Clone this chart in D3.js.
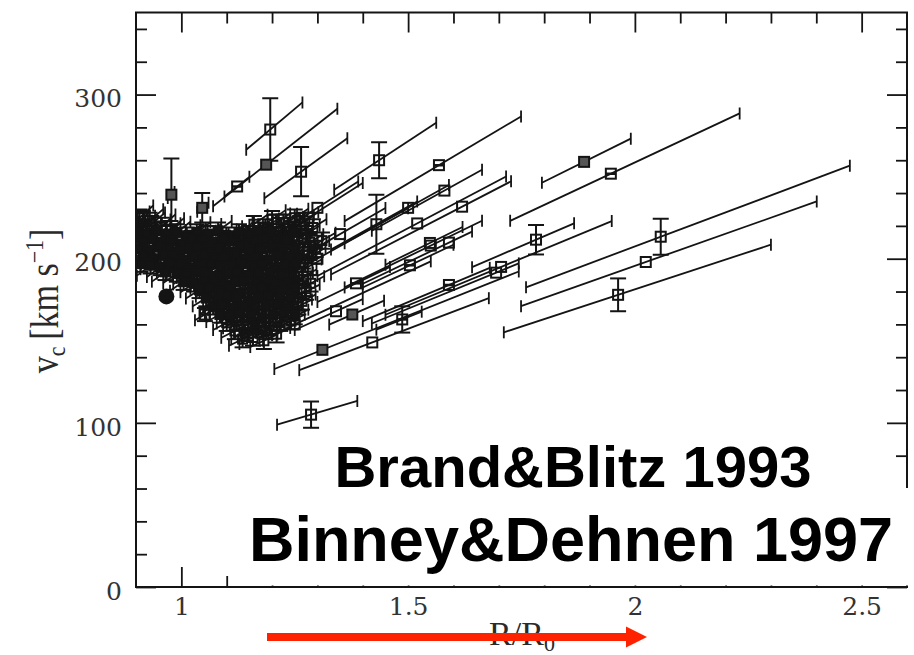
<!DOCTYPE html>
<html><head><meta charset="utf-8">
<script src="https://cdn.jsdelivr.net/npm/d3@7/dist/d3.min.js"></script>
<style>body{margin:0;background:#fff}svg{display:block}</style>
</head><body>
<svg id="c" width="914" height="655"></svg>
<script>
// ---- tick values ----
const xMajor = [1, 1.5, 2, 2.5];
const xMinor = [1.1,1.2,1.3,1.4,1.6,1.7,1.8,1.9,2.1,2.2,2.3,2.4];
const yMajor = [0, 100, 200, 300];
const yMinor = [20,40,60,80,120,140,160,180,220,240,260,280,320,340];

// ---- isolated points with long (distance) error segments ----
// R/R0, v_c, segment R-low, segment R-high, vertical error, marker type (0 open,1 filled,2 barred)
const lR   = [1.196,1.187,1.123,1.264,1.436,1.568,1.430,1.888,1.947,2.057,2.024,1.963,1.782,1.705,1.286,1.311,1.421,1.487,1.590,1.619,1.520,1.580,1.500,1.550,1.590,1.385,1.377,1.341,1.694,1.250,1.300,1.350,1.280,1.504,1.548,1.300,0.978,1.046,1.052,0.915];
const lV   = [278.7,257.3,244,253,260,257,221,259,251.8,213.4,198,178,211.6,195,105,144.5,149,163,184,231.7,221.5,241.5,231,208,209.8,185,166,168,191.5,160,200,215,225,196,209.6,231,239,231,166,225];
const lLo  = [1.143,1.07,1.095,1.183,1.337,1.36,1.33,1.795,1.725,1.76,1.749,1.711,1.641,1.45,1.211,1.205,1.26,1.43,1.40,1.33,1.30,1.42,1.36,1.36,1.40,1.30,1.326,1.25,1.42,1.20,1.24,1.28,1.22,1.40,1.45,1.22,0.97,1.035,1.03,0.905];
const lHi  = [1.267,1.344,1.15,1.366,1.562,1.749,1.52,1.991,2.231,2.474,2.401,2.30,1.866,1.949,1.388,1.744,1.678,1.53,1.68,1.727,1.716,1.663,1.59,1.663,1.641,1.46,1.447,1.40,1.744,1.55,1.50,1.45,1.40,1.60,1.62,1.39,0.985,1.06,1.075,0.93];
const lDv  = [19,0,0,15,11,0,18,0,0,11,0,10,9,0,8,0,0,8,0,0,0,0,0,0,0,0,0,0,0,0,0,0,0,0,0,0,22,9,4,4];
const lType= [0,1,2,0,0,2,0,1,2,0,0,0,0,0,0,1,0,2,2,0,0,0,0,0,0,2,1,0,0,0,0,0,0,2,0,0,1,1,2,0];

// ---- dense cluster near the solar circle (rows of roughly equal v_c) ----
const clusterRowsR = [
  [0.908,0.930,1.200,1.225,1.250,1.272],
  [0.912,0.934,0.957,0.976,1.160,1.185,1.210,1.238,1.262,1.290],
  [0.905,0.925,0.946,0.968,0.990,1.012,1.034,1.058,1.081,1.104,1.127,1.150,1.172,1.197,1.222,1.247,1.275],
  [0.915,0.937,0.958,0.980,1.002,1.024,1.046,1.069,1.092,1.115,1.138,1.162,1.185,1.209,1.233,1.258,1.283,1.310],
  [0.907,0.929,0.950,0.972,0.994,1.015,1.037,1.060,1.083,1.106,1.130,1.152,1.176,1.200,1.224,1.249,1.270,1.296],
  [0.918,0.940,0.962,0.984,1.006,1.028,1.050,1.073,1.097,1.120,1.143,1.166,1.190,1.213,1.238,1.262,1.288],
  [0.910,0.932,0.954,0.976,0.998,1.020,1.042,1.065,1.088,1.111,1.134,1.157,1.180,1.205,1.229,1.253,1.279],
  [0.965,0.990,1.012,1.034,1.056,1.080,1.102,1.125,1.148,1.171,1.195,1.219,1.243,1.268],
  [1.005,1.028,1.050,1.073,1.095,1.118,1.141,1.165,1.188,1.212,1.236,1.260,1.285],
  [1.040,1.062,1.085,1.108,1.131,1.155,1.178,1.202,1.226,1.250,1.275],
  [1.055,1.078,1.100,1.123,1.147,1.170,1.194,1.218,1.242,1.266],
  [1.070,1.092,1.115,1.138,1.162,1.186,1.210,1.234,1.258],
  [1.085,1.108,1.130,1.154,1.178,1.202,1.226,1.250],
  [1.100,1.122,1.146,1.170,1.194,1.218,1.242],
  [1.118,1.140,1.163,1.187,1.210],
  [1.135,1.158,1.182]
];
const clusterRowsV = [
  [225,223,224,222,225,223],
  [219,221,220,218,221,219,222,220,221,219],
  [216,215,217,215,216,214,216,215,217,214,216,215,217,216,214,216,215],
  [211,212,210,211,209,212,211,210,212,211,209,211,212,210,211,212,210,211],
  [206,205,207,206,204,206,207,205,206,204,207,205,206,207,205,206,204,206],
  [201,200,202,201,199,201,202,200,201,203,200,201,199,202,201,200,202],
  [197,196,195,197,196,194,196,197,195,196,197,195,196,194,196,197,195],
  [192,191,190,192,191,189,191,192,190,191,192,190,191,189],
  [186,185,187,186,184,186,187,185,186,184,186,187,185],
  [181,182,180,181,179,181,182,180,181,182,180],
  [176,175,177,176,174,176,177,175,176,174],
  [171,172,170,171,169,171,172,170,171],
  [166,165,167,166,164,166,167,165],
  [161,162,160,161,159,161,162],
  [156,155,157,156,154],
  [151,152,150]
];
const clusterErrR = 0.03;   // typical distance-error half width in the cluster
const clusterErrV = 5;      // typical velocity error
const circR = [0.967], circV = [177];

// ---- drawing ----
const svg = d3.select('#c');
const x = d3.scaleLinear().domain([0.9, 2.6]).range([136, 907]);
const y = d3.scaleLinear().domain([0, 350]).range([587, 12.5]);
const ink = '#141414';

svg.append('clipPath').attr('id','plot').append('rect')
  .attr('x',136).attr('y',12.5).attr('width',771).attr('height',574.5);
const dataG = svg.append('g').attr('clip-path','url(#plot)');

const pts = lR.map((r,i)=>({r, v:lV[i], lo:lLo[i], hi:lHi[i], dv:lDv[i], t:lType[i]}));
const cl = [];
clusterRowsR.forEach((row,k)=>row.forEach((r,j)=>{
  const v = clusterRowsV[k][j];
  // edge rows and the outer (large-R) side of the clump are drawn as open squares
  const open = k<2 || k>12 || r>1.255;
  cl.push({r, v, lo:r-clusterErrR, hi:r+clusterErrR, dv:clusterErrV, t: open ? 0 : 3});
}));

function drawSet(data, cls, sq){
  const g = dataG.append('g').attr('class', cls).attr('stroke', ink).attr('fill','none');
  g.selectAll('line.seg').data(data).join('line').attr('class','seg')
    .attr('x1', d=>x(d.lo)).attr('y1', d=>y(d.v*d.lo/d.r))
    .attr('x2', d=>x(d.hi)).attr('y2', d=>y(d.v*d.hi/d.r))
    .attr('stroke-width', 1.8);
  g.selectAll('line.capl').data(data).join('line').attr('class','capl')
    .attr('x1', d=>x(d.lo)).attr('x2', d=>x(d.lo))
    .attr('y1', d=>y(d.v*d.lo/d.r)-6).attr('y2', d=>y(d.v*d.lo/d.r)+6).attr('stroke-width',1.8);
  g.selectAll('line.caph').data(data).join('line').attr('class','caph')
    .attr('x1', d=>x(d.hi)).attr('x2', d=>x(d.hi))
    .attr('y1', d=>y(d.v*d.hi/d.r)-6).attr('y2', d=>y(d.v*d.hi/d.r)+6).attr('stroke-width',1.8);
  const ve = data.filter(d=>d.dv>0);
  g.selectAll('line.ve').data(ve).join('line').attr('class','ve')
    .attr('x1', d=>x(d.r)).attr('x2', d=>x(d.r))
    .attr('y1', d=>y(d.v+d.dv)).attr('y2', d=>y(d.v-d.dv)).attr('stroke-width',2);
  g.selectAll('line.vt').data(ve).join('line').attr('class','vt')
    .attr('x1', d=>x(d.r)-8).attr('x2', d=>x(d.r)+8)
    .attr('y1', d=>y(d.v+d.dv)).attr('y2', d=>y(d.v+d.dv)).attr('stroke-width',2);
  g.selectAll('line.vb').data(ve).join('line').attr('class','vb')
    .attr('x1', d=>x(d.r)-8).attr('x2', d=>x(d.r)+8)
    .attr('y1', d=>y(d.v-d.dv)).attr('y2', d=>y(d.v-d.dv)).attr('stroke-width',2);
  g.selectAll('rect.sq').data(data).join('rect').attr('class','sq')
    .attr('x', d=>x(d.r)-sq/2).attr('y', d=>y(d.v)-sq/2)
    .attr('width', sq).attr('height', sq)
    .attr('fill', d=> d.t===1 ? '#555' : d.t===3 ? ink : 'none').attr('stroke-width', 2);
  g.selectAll('line.bar').data(data.filter(d=>d.t===2)).join('line').attr('class','bar')
    .attr('x1', d=>x(d.r)-sq/2).attr('x2', d=>x(d.r)+sq/2)
    .attr('y1', d=>y(d.v)).attr('y2', d=>y(d.v)).attr('stroke-width', 2.5);
}
drawSet(cl, 'cluster', 9);
drawSet(pts, 'long', 10);
dataG.append('g').selectAll('circle').data(circR).join('circle')
  .attr('cx', d=>x(d)).attr('cy', (d,i)=>y(circV[i])).attr('r', 8).attr('fill', ink);

// ---- axes (ticks pointing inward on all four sides) ----
function styleAxis(g){ g.select('.domain').remove();
  g.selectAll('.tick line').attr('stroke', ink).attr('stroke-width', 1.8); }
const fontTicks = '"DejaVu Serif", serif';
const gl = svg.append('g').attr('transform','translate(136,0)')
  .call(d3.axisLeft(y).tickValues(yMajor).tickSizeInner(-20).tickSizeOuter(0).tickPadding(14).tickFormat(d3.format('d')));
styleAxis(gl);
gl.selectAll('.tick text').attr('font-family', fontTicks).attr('font-size', 25).attr('fill','#333').attr('dy','0.49em');
svg.append('g').attr('transform','translate(136,0)')
  .call(d3.axisLeft(y).tickValues(yMinor).tickSizeInner(-11).tickSizeOuter(0).tickFormat('')).call(styleAxis);
svg.append('g').attr('transform','translate(907,0)')
  .call(d3.axisRight(y).tickValues(yMajor).tickSizeInner(-20).tickSizeOuter(0).tickFormat('')).call(styleAxis);
svg.append('g').attr('transform','translate(907,0)')
  .call(d3.axisRight(y).tickValues(yMinor).tickSizeInner(-11).tickSizeOuter(0).tickFormat('')).call(styleAxis);
svg.append('g').attr('transform','translate(0,12.5)')
  .call(d3.axisTop(x).tickValues(xMajor).tickSizeInner(-20).tickSizeOuter(0).tickFormat('')).call(styleAxis);
svg.append('g').attr('transform','translate(0,12.5)')
  .call(d3.axisTop(x).tickValues(xMinor).tickSizeInner(-11).tickSizeOuter(0).tickFormat('')).call(styleAxis);
const gb = svg.append('g').attr('transform','translate(0,587)')
  .call(d3.axisBottom(x).tickValues(xMajor).tickSizeInner(-20).tickSizeOuter(0).tickPadding(10.5).tickFormat(d3.format('')));
styleAxis(gb);
gb.selectAll('.tick text').attr('font-family', fontTicks).attr('font-size', 25).attr('fill','#333');
svg.append('g').attr('transform','translate(0,587)')
  .call(d3.axisBottom(x).tickValues(xMinor).tickSizeInner(-11).tickSizeOuter(0).tickFormat('')).call(styleAxis);
svg.append('rect').attr('x',136).attr('y',12.5).attr('width',771).attr('height',574.5)
  .attr('fill','none').attr('stroke',ink).attr('stroke-width',2);

// ---- axis titles ----
const yl = svg.append('text').attr('transform','translate(58,301) rotate(-90) scale(1,1.15)')
  .attr('text-anchor','middle').attr('font-family','"Liberation Serif", serif').attr('font-size',34).attr('fill','#2a2a2a');
yl.append('tspan').text('v');
yl.append('tspan').attr('font-size',22).attr('dy',6).text('c');
yl.append('tspan').attr('dy',-6).text('\u2009[km s');
yl.append('tspan').attr('font-size',22).attr('dy',-13).text('\u22121');
yl.append('tspan').attr('dy',13).text(']');

const xl = svg.append('text').attr('x',522).attr('y',645).attr('text-anchor','middle')
  .attr('font-family','"Liberation Serif", serif').attr('font-size',34).attr('fill','#2a2a2a');
xl.append('tspan').text('R/R');
xl.append('tspan').attr('font-size',22).attr('dy',6).text('0');

// ---- white panel behind overlay text ----
svg.append('rect').attr('x',246).attr('y',488).attr('width',668).attr('height',97.5).attr('fill','#fff');

// ---- overlay text ----
const bold = '"Liberation Sans", Arial, Helvetica, sans-serif';
svg.append('text').attr('x',573).attr('y',487).attr('text-anchor','middle')
  .attr('font-family',bold).attr('font-weight','bold').attr('font-size',58).attr('fill','#000').text('Brand&Blitz 1993');
svg.append('text').attr('x',571).attr('y',561).attr('text-anchor','middle')
  .attr('font-family',bold).attr('font-weight','bold').attr('font-size',63).attr('fill','#000').text('Binney&Dehnen 1997');

// ---- red arrow ----
svg.append('line').attr('x1',267).attr('x2',628).attr('y1',637).attr('y2',637)
  .attr('stroke','#ff2200').attr('stroke-width',8);
svg.append('path').attr('d','M626,626.5 L647,637 L626,647.5 Z').attr('fill','#ff2200');
</script>
</body></html>
